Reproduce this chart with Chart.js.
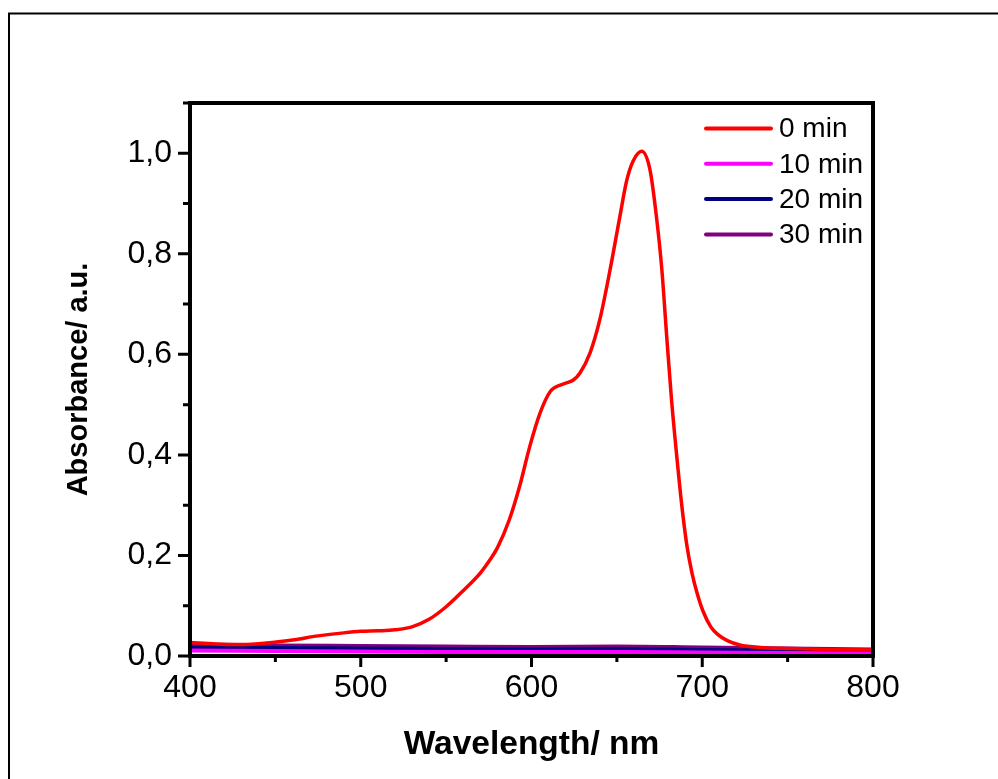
<!DOCTYPE html>
<html><head><meta charset="utf-8">
<script src="https://cdn.jsdelivr.net/npm/chart.js@4/dist/chart.umd.min.js"></script>
<style>html,body{margin:0;padding:0;background:#fff}#wrap{width:998px;height:779px;position:relative}canvas{display:block}</style>
</head><body><div id="wrap"><canvas id="c" width="998" height="779"></canvas></div>
<script>
// ---- data ----
const seriesLabels = ['0 min', '10 min', '20 min', '30 min'];
const seriesColors = ['#FF0000', '#FF00FF', '#000080', '#800080'];
const wl0 = [400, 415, 430, 445, 460, 475, 490, 500, 510, 520, 530, 540, 550, 560, 570, 575, 580, 587, 593, 599, 605, 611, 618.6, 624.5, 628.4, 634.3, 640, 646, 651.8, 655.7, 659.6, 664.5, 669.4, 673.3, 676.3, 679.2, 682, 685, 688, 691, 694, 697, 700.6, 705, 709, 715, 722, 734, 750, 770, 800];
const abs0 = [0.027, 0.024, 0.023, 0.026, 0.032, 0.040, 0.046, 0.049, 0.050, 0.052, 0.058, 0.073, 0.098, 0.130, 0.165, 0.188, 0.215, 0.271, 0.337, 0.417, 0.483, 0.526, 0.541, 0.549, 0.563, 0.603, 0.669, 0.768, 0.875, 0.945, 0.985, 1.004, 0.967, 0.870, 0.770, 0.635, 0.510, 0.400, 0.300, 0.220, 0.165, 0.125, 0.088, 0.058, 0.043, 0.030, 0.022, 0.017, 0.015, 0.013, 0.012];
const wlFlat = [400, 450, 500, 550, 600, 650, 700, 750, 800];
const abs10 = [0.011, 0.010, 0.009, 0.008, 0.008, 0.008, 0.007, 0.006, 0.005];
const abs20 = [0.017, 0.016, 0.015, 0.014, 0.013, 0.014, 0.012, 0.011, 0.009];
const abs30 = [0.023, 0.021, 0.020, 0.019, 0.018, 0.019, 0.017, 0.015, 0.013];
const xMajor = [400, 500, 600, 700, 800];
const xMinor = [450, 550, 650, 750];
const yMajor = [0, 0.2, 0.4, 0.6, 0.8, 1.0];
const yMinor = [0.1, 0.3, 0.5, 0.7, 0.9, 1.1];
const xTitle = 'Wavelength/ nm';
const yTitle = 'Absorbance/ a.u.';

const FONT = 'Arial, "Liberation Sans", sans-serif';
const toPts = (xs, ys) => xs.map((x, i) => ({x: x, y: ys[i]}));
const allY = [abs0, abs10, abs20, abs30];
const allX = [wl0, wlFlat, wlFlat, wlFlat];

const datasets = seriesLabels.map((lab, i) => ({
  label: lab,
  data: toPts(allX[i], allY[i]),
  borderColor: seriesColors[i],
  backgroundColor: seriesColors[i],
  borderWidth: i === 0 ? 3.5 : 4,
  pointRadius: 0,
  cubicInterpolationMode: 'monotone',
  fill: false
}));

const framePlugin = {
  id: 'frame',
  beforeDraw(chart) {
    const ctx = chart.ctx;
    ctx.save();
    ctx.fillStyle = '#fff';
    ctx.fillRect(0, 0, chart.width, chart.height);
    ctx.strokeStyle = '#000';
    ctx.lineWidth = 2;
    ctx.beginPath();
    ctx.moveTo(9, 800); ctx.lineTo(9, 13.5); ctx.lineTo(1000, 13.5);
    ctx.stroke();
    ctx.restore();
  },
  afterDraw(chart) {
    const ctx = chart.ctx;
    const a = chart.chartArea;
    const xs = chart.scales.x, ys = chart.scales.y;
    ctx.save();
    ctx.strokeStyle = '#000';
    ctx.lineCap = 'butt';
    ctx.lineWidth = 3;
    ctx.beginPath();
    xMajor.forEach(v => { const p = xs.getPixelForValue(v); ctx.moveTo(p, a.bottom); ctx.lineTo(p, a.bottom + 11); });
    xMinor.forEach(v => { const p = xs.getPixelForValue(v); ctx.moveTo(p, a.bottom); ctx.lineTo(p, a.bottom + 6); });
    yMajor.forEach(v => { const p = ys.getPixelForValue(v); ctx.moveTo(a.left, p); ctx.lineTo(a.left - 12, p); });
    yMinor.forEach(v => { const p = ys.getPixelForValue(v); ctx.moveTo(a.left, p); ctx.lineTo(a.left - 7, p); });
    ctx.stroke();
    ctx.lineWidth = 4;
    ctx.lineJoin = 'miter';
    ctx.strokeRect(a.left, a.top, a.right - a.left, a.bottom - a.top);
    ctx.font = '28px ' + FONT;
    ctx.textBaseline = 'middle';
    ctx.textAlign = 'left';
    chart.data.datasets.forEach((ds, i) => {
      const y = 128.5 + i * 35.3;
      ctx.strokeStyle = ds.borderColor;
      ctx.lineWidth = 4;
      ctx.lineCap = 'round';
      ctx.beginPath(); ctx.moveTo(706, y); ctx.lineTo(771, y); ctx.stroke();
      ctx.fillStyle = '#000';
      ctx.fillText(ds.label, 779, y + 1);
    });
    ctx.restore();
  }
};

new Chart(document.getElementById('c'), {
  type: 'line',
  data: { datasets: datasets },
  options: {
    responsive: false,
    animation: false,
    devicePixelRatio: 1,
    layout: { padding: { left: 0, top: 103, right: 125, bottom: 0 } },
    plugins: { legend: { display: false }, tooltip: { enabled: false } },
    scales: {
      x: {
        type: 'linear', min: 400, max: 800,
        afterFit: s => { s.height = 123; },
        grid: { display: false, drawTicks: false },
        border: { display: false },
        ticks: { stepSize: 100, padding: 13, color: '#000', font: { family: FONT, size: 32 }, maxRotation: 0,
          callback: v => (xMajor.includes(v) ? String(v) : '') },
        title: { display: true, text: xTitle, color: '#000', font: { family: FONT, size: 33.5, weight: 'bold' }, padding: { top: 0, bottom: 14 } }
      },
      y: {
        type: 'linear', min: 0, max: 1.1,
        afterFit: s => { s.width = 190; },
        grid: { display: false, drawTicks: false },
        border: { display: false },
        ticks: { stepSize: 0.2, includeBounds: false, padding: 18, color: '#000', font: { family: FONT, size: 32 },
          callback: v => { const r = Math.round(v * 10) / 10; return (Math.round(r * 10) % 2 === 0) ? r.toFixed(1).replace('.', ',') : ''; } },
        title: { display: true, text: yTitle, color: '#000', font: { family: FONT, size: 29, weight: 'bold' }, padding: { top: 62, bottom: 0 } }
      }
    }
  },
  plugins: [framePlugin]
});
</script>
</body></html>
